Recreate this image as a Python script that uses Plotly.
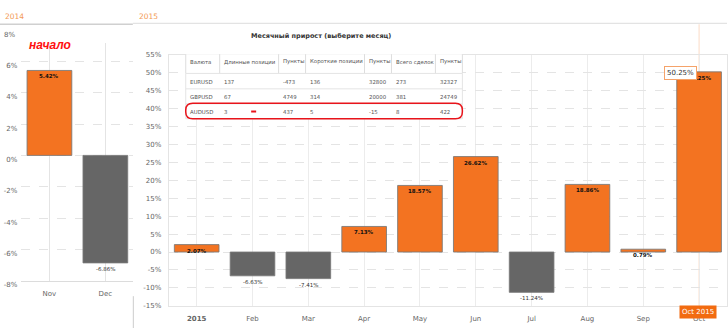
import plotly.graph_objects as go

# ---- data -------------------------------------------------------------
months_2014 = ["Nov", "Dec"]
growth_2014 = [5.42, -6.86]

months_2015 = ["Jan", "Feb", "Mar", "Apr", "May", "Jun", "Jul", "Aug", "Sep", "Oct"]
month_labels_2015 = ["<b>2015</b>", "Feb", "Mar", "Apr", "May", "Jun", "Jul", "Aug", "Sep", "Oct"]
growth_2015 = [2.07, -6.63, -7.41, 7.13, 18.57, 26.62, -11.24, 18.86, 0.79, 50.25]

ticks_2014 = [-8, -6, -4, -2, 0, 2, 4, 6]
ticks_2015 = [-15, -10, -5, 0, 5, 10, 15, 20, 25, 30, 35, 40, 45, 50, 55]

table_header = ["Валюта", "Длинные позиции", "Пункты", "Короткие позиции",
                "Пункты", "Всего сделок", "Пункты"]
currency = ["EURUSD", "GBPUSD", "AUDUSD"]
long_positions = [137, 67, 3]
long_points = [-473, 4749, 437]
short_positions = [136, 314, 5]
short_points = [32800, 20000, -15]
total_trades = [273, 381, 8]
total_points = [32327, 24749, 422]

selected_month = "Oct"

# ---- helpers ------------------------------------------------------------
W, H = 728, 336
ORANGE = "#f37321"
GRAY = "#666666"
FONT = "DejaVu Sans"


def px(x):
    return x / W


def py(y):
    return 1 - y / H


def bar_colors(values):
    return [ORANGE if v >= 0 else GRAY for v in values]


fig = go.Figure()

fig.add_trace(go.Bar(
    x=months_2014, y=growth_2014, xaxis="x", yaxis="y",
    marker=dict(color=bar_colors(growth_2014), line=dict(color="rgba(120,120,120,0.85)", width=1)),
    hoverinfo="skip",
))
fig.add_trace(go.Bar(
    x=months_2015, y=growth_2015, xaxis="x2", yaxis="y2",
    marker=dict(color=bar_colors(growth_2015), line=dict(color="rgba(120,120,120,0.85)", width=1)),
    hoverinfo="skip",
))

annotations = []
shapes = []

# value labels, hanging just under the bar end
for xs, ys, xr, yr in [(months_2014, growth_2014, "x", "y"), (months_2015, growth_2015, "x2", "y2")]:
    for m, v in zip(xs, ys):
        annotations.append(dict(
            x=m, y=v, xref=xr, yref=yr, text=f"{v:.2f}%", showarrow=False,
            yanchor="top", yshift=-1,
            font=dict(family=FONT, size=5.5, color="#111" if v >= 0 else "#333",
                      weight="bold" if v >= 0 else "normal"),
        ))

# top year strip
annotations += [
    dict(x=px(3), y=py(13), xref="paper", yref="paper", text="2014", showarrow=False,
         xanchor="left", yanchor="middle", font=dict(family=FONT, size=7.5, color="#f39a55")),
    dict(x=px(137), y=py(13), xref="paper", yref="paper", text="2015", showarrow=False,
         xanchor="left", yanchor="middle", font=dict(family=FONT, size=7.5, color="#f39a55")),
]
shapes += [
    dict(type="line", xref="paper", yref="paper", x0=0, x1=px(133), y0=py(21), y1=py(21),
         line=dict(color="#d0d0d0", width=1.5)),
    dict(type="line", xref="paper", yref="paper", x0=px(133), x1=1, y0=py(20), y1=py(20),
         line=dict(color="#dcdcdc", width=1)),
    dict(type="line", xref="paper", yref="paper", x0=px(133.5), x1=px(133.5), y0=py(303), y1=0,
         line=dict(color="#cccccc", width=1)),
]

# top tick label of the left axis sits above its plot area
annotations.append(dict(x=px(17), y=py(31.7), xref="paper", yref="paper", text="8%", showarrow=False,
                        xanchor="right", yanchor="middle", font=dict(family=FONT, size=7, color="#666")))

# "начало" marker
annotations.append(dict(x=px(27), y=py(43), xref="paper", yref="paper", text="начало", showarrow=False,
                        xanchor="left", yanchor="middle",
                        font=dict(family="Liberation Sans", size=12, color="#ff1010",
                                  weight="bold", style="italic")))

# chart title
annotations.append(dict(x=px(321), y=py(33), xref="paper", yref="paper",
                        text="Месячный прирост (выберите месяц)", showarrow=False,
                        xanchor="center", yanchor="middle",
                        font=dict(family=FONT, size=6.5, color="#333", weight="bold")))

# ---- trades table ------------------------------------------------------
col_edges = [186, 220, 279, 306, 365, 392, 436, 463]
row_edges = [52, 72, 88, 103.5, 119]
row_text_y = [60, 81, 96, 111.5]

shapes.append(dict(type="rect", xref="paper", yref="paper", layer="above",
                   x0=px(col_edges[0]), x1=px(col_edges[-1]), y0=py(row_edges[0]), y1=py(row_edges[-1]),
                   fillcolor="white", line=dict(width=0)))
for xe in col_edges:
    shapes.append(dict(type="line", xref="paper", yref="paper", layer="above",
                       x0=px(xe), x1=px(xe), y0=py(row_edges[0]), y1=py(row_edges[1]),
                       line=dict(color="#dddddd", width=1)))
for xe in (col_edges[0], col_edges[-1]):
    shapes.append(dict(type="line", xref="paper", yref="paper", layer="above",
                       x0=px(xe), x1=px(xe), y0=py(row_edges[1]), y1=py(row_edges[-1]),
                       line=dict(color="#e4e4e4", width=1)))
for ye in row_edges[1:]:
    shapes.append(dict(type="line", xref="paper", yref="paper", layer="above",
                       x0=px(col_edges[0]), x1=px(col_edges[-1]), y0=py(ye), y1=py(ye),
                       line=dict(color="#e4e4e4", width=1)))

rows = [table_header] + [
    [c, a, b, d, e, f, g] for c, a, b, d, e, f, g in
    zip(currency, long_positions, long_points, short_positions, short_points, total_trades, total_points)
]
for ri, row in enumerate(rows):
    for ci, val in enumerate(row):
        annotations.append(dict(x=px(col_edges[ci] + 2.5), y=py(row_text_y[ri]), xref="paper", yref="paper",
                                text=str(val), showarrow=False, xanchor="left", yanchor="middle",
                                font=dict(family=FONT, size=5.4, color="#555")))


def rounded_rect(x0, y0, x1, y1, r):
    pts = [("M", [(x0 + r, y0)]), ("L", [(x1 - r, y0)]), ("Q", [(x1, y0), (x1, y0 + r)]),
           ("L", [(x1, y1 - r)]), ("Q", [(x1, y1), (x1 - r, y1)]), ("L", [(x0 + r, y1)]),
           ("Q", [(x0, y1), (x0, y1 - r)]), ("L", [(x0, y0 + r)]), ("Q", [(x0, y0), (x0 + r, y0)])]
    parts = []
    for cmd, coords in pts:
        parts.append(cmd + " " + " ".join(f"{px(a):.5f},{py(b):.5f}" for a, b in coords))
    return " ".join(parts) + " Z"


shapes.append(dict(type="path", xref="paper", yref="paper", layer="above",
                   path=rounded_rect(186, 103, 463, 119, 7), line=dict(color="#e8141b", width=1.5)))
shapes.append(dict(type="line", xref="paper", yref="paper", layer="above",
                   x0=px(251.5), x1=px(256.5), y0=py(111.5), y1=py(111.5),
                   line=dict(color="#e8141b", width=2)))

# ---- selection crosshair and tooltip --------------------------------------
sel_idx = months_2015.index(selected_month)
shapes.append(dict(type="line", xref="x2", yref="paper", layer="between",
                   x0=selected_month, x1=selected_month, y0=py(313), y1=py(21),
                   line=dict(color="rgba(243,115,33,0.25)", width=1)))
annotations.append(dict(x=px(681), y=py(71.5), xref="paper", yref="paper",
                        text=f"{growth_2015[sel_idx]:.2f}%", showarrow=False,
                        xanchor="center", yanchor="middle", bgcolor="white",
                        bordercolor="#f5a36a", borderwidth=1, borderpad=2,
                        font=dict(family=FONT, size=7, color="#333")))
annotations.append(dict(x=px(699), y=py(319.5), xref="paper", yref="paper",
                        text=f"{selected_month} 2015", showarrow=False,
                        xanchor="center", yanchor="middle", bgcolor="#f26b10",
                        borderpad=2, font=dict(family=FONT, size=7, color="white")))

tickfont = dict(family=FONT, size=7, color="#666")

fig.update_layout(
    width=W, height=H, margin=dict(l=0, r=0, t=0, b=0),
    paper_bgcolor="white", plot_bgcolor="white",
    showlegend=False, bargap=0.2, font=dict(family=FONT),
    xaxis=dict(domain=[px(21.5), px(133.5)], anchor="y", showgrid=True, gridcolor="#e4e4e4",
               showline=True, linecolor="#dcdcdc", ticks="", tickfont=tickfont,
               ticklabelstandoff=6, fixedrange=True),
    yaxis=dict(domain=[py(287), py(40)], anchor="x", range=[-8, 7.2], tickvals=ticks_2014,
               ticktext=[f"{t}%" for t in ticks_2014], showgrid=True, gridcolor="#e4e4e4",
               griddash="dash", zeroline=False, ticks="", tickfont=tickfont,
               ticklabelshift=4, ticklabelstandoff=3),
    xaxis2=dict(domain=[px(169), 1], anchor="y2", tickvals=months_2015, ticktext=month_labels_2015,
                showgrid=True, gridcolor="#ececec", showline=True, mirror=True, linecolor="#e4e4e4",
                ticks="", tickfont=tickfont, ticklabelstandoff=6),
    yaxis2=dict(domain=[py(313), py(52.7)], anchor="x2", range=[-15, 55], tickvals=ticks_2015,
                ticktext=[f"{t}%" for t in ticks_2015], showgrid=True, gridcolor="#e4e4e4",
                griddash="dash", zeroline=False, showline=True, mirror=True, linecolor="#e4e4e4",
                ticks="", tickfont=tickfont, ticklabelstandoff=5),
    annotations=annotations, shapes=shapes,
)

fig.write_html("out.html")
